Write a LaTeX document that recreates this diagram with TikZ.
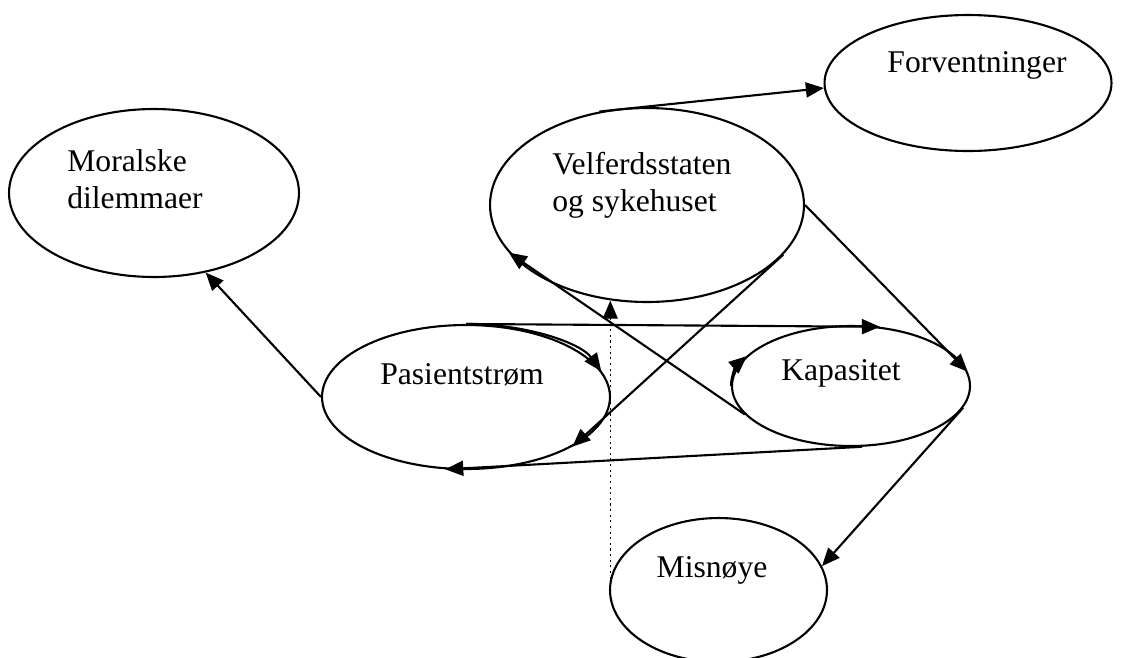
\documentclass[tikz,border=0pt]{standalone}
\usepackage{fontspec}
\setmainfont{Liberation Serif}
\usetikzlibrary{arrows.meta,shapes.geometric}

\begin{document}
\begin{tikzpicture}[x=0.02cm,y=-0.02cm,
    boble/.style={draw,ellipse,line width=1.2pt,inner sep=0pt},
    tekst/.style={inner sep=0pt,font=\fontsize{18}{20.5}\selectfont,align=left},
    pil/.style={line width=1.2pt,-{Triangle[length=0.36cm,width=0.3cm]}}]
    \useasboundingbox (0,0) rectangle (1128,657);
    % boblene
    \node[boble,minimum width=5.8cm,minimum height=3.36cm] (moral) at (154,193) {};
    \node[boble,minimum width=6.28cm,minimum height=3.88cm] (vel) at (647,205) {};
    \node[boble,minimum width=5.74cm,minimum height=2.72cm] (forv) at (968,83) {};
    \node[boble,minimum width=5.76cm,minimum height=2.88cm] (pas) at (466,397) {};
    \node[boble,minimum width=4.76cm,minimum height=2.4cm] (kap) at (851,386) {};
    \node[boble,minimum width=4.34cm,minimum height=2.88cm] (mis) at (718.5,590) {};
    % tekstene (base = siste linje)
    \node[tekst,anchor=base west] (moraltxt) at (67,208) {Moralske\\dilemmaer};
    \node[tekst,anchor=base west] (veltxt) at (552,211) {Velferdsstaten\\og sykehuset};
    \node[tekst,anchor=base] (forvtxt) at (977,72) {Forventninger};
    \node[tekst,anchor=base] (pastxt) at (462,384) {Pasientstrøm};
    \node[tekst,anchor=base] (kaptxt) at (841,380) {Kapasitet};
    \node[tekst,anchor=base] (mistxt) at (712,577) {Misnøye};
    % pilene
    \draw[pil] (pas.west) -- (moral.-57);
    \draw[pil] (vel.117) -- (forv.182);
    \draw[pil] (vel.east) -- (kap.7);
    \draw[pil] (vel.-20) -- (pas.-25);
    \draw[pil] (kap.195) -- (vel.199);
    \draw[pil] (pas.north) -- (kap.64);
    \draw[pil] (kap.-80) -- (pas.-106);
    \draw[pil] (kap.-11) -- (mis.13);
    \draw[pil] (pas.north) arc[start angle=90,end angle=20,x radius=2.88cm,y radius=1.44cm];
    \draw[pil] (kap.west) arc[start angle=180,end angle=150,x radius=2.38cm,y radius=1.2cm];
    \draw[pil,dotted,line width=0.7pt] (mis.174) -- (mis.174 |- vel.250);
\end{tikzpicture}
\end{document}
